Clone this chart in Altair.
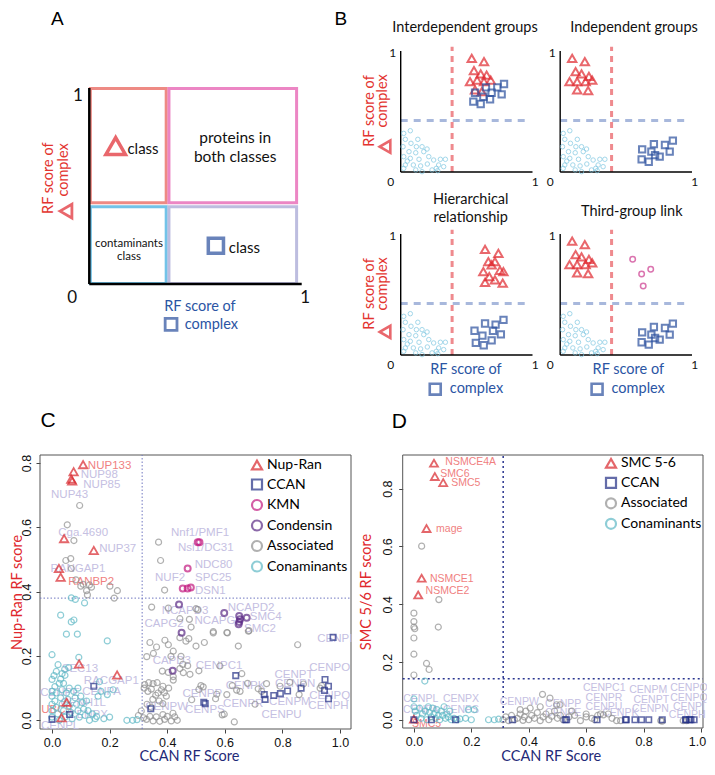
import altair as alt
import pandas as pd

LATO = "Lato"
HELV = "Liberation Sans"
RED = "#e3342f"
BLUE_T = "#2b55a4"
BLACK = "#111111"

# ======================= Panel A (schematic) =======================
A_box_x0 = [0.005, 0.375, 0.005, 0.375]
A_box_x1 = [0.362, 0.976, 0.362, 0.976]
A_box_y0 = [0.415, 0.415, 0.003, 0.003]
A_box_y1 = [0.998, 0.998, 0.394, 0.394]
A_box_color = ["#ee8a84", "#ec86c4", "#72c3e8", "#bdbddf"]

A_axis_x0 = [0.0, 0.0]
A_axis_y0 = [0.0, 0.0]
A_axis_x1 = [0.0, 1.0]
A_axis_y1 = [1.0, 0.0]

A_letters = ["A", "B"]
A_letters_x = [-0.150, 1.184]
A_letters_y = [1.350, 1.350]

A_txt = ["1", "0", "1", "class", "proteins in", "both classes", "contaminants", "class",
         "class", "RF score of", "complex", "RF score of", "complex"]
A_txt_x = [-0.053, -0.081, 1.016, 0.253, 0.687, 0.687, 0.187, 0.187, 0.730, -0.188, -0.118, 0.521, 0.575]
A_txt_y = [0.959, -0.071, -0.071, 0.689, 0.743, 0.649, 0.204, 0.136, 0.182, 0.540, 0.582, -0.116, -0.209]
A_txt_size = [17, 17, 17, 15, 15.5, 15.5, 11.5, 11.5, 15, 14.5, 14.5, 14.5, 14.5]
A_txt_color = [BLACK, BLACK, BLACK, BLACK, BLACK, BLACK, BLACK, BLACK, BLACK, RED, RED, BLUE_T, BLUE_T]
A_txt_angle = [0, 0, 0, 0, 0, 0, 0, 0, 0, 270, 270, 0, 0]

A_sym_x = [0.124, 0.596, -0.110, 0.385]
A_sym_y = [0.704, 0.195, 0.372, -0.206]
A_sym_shape = ["triangle-up", "square", "triangle-left", "square"]
A_sym_color = ["#e0282e", "#2a4f9e", "#e0282e", "#2a4f9e"]
A_sym_size = [380, 230, 190, 140]
A_sym_width = [3.5, 3.5, 2.8, 2.8]

# ======================= Panel B (schematic) =======================
B_COL_DX = 1.21
B_ROW_DY = 1.512

B_cont_x = [0.023, 0.073, 0.035, 0.078, 0.018, 0.119, 0.162, 0.063, 0.114, 0.175, 0.213, 0.023, 0.073,
            0.139, 0.250, 0.301, 0.339, 0.035, 0.096, 0.151, 0.202, 0.288, 0.326, 0.114, 0.238, 0.281,
            0.023, 0.162, 0.050, 0.200, 0.130, 0.270]
B_cont_y = [0.319, 0.341, 0.270, 0.237, 0.209, 0.209, 0.209, 0.168, 0.159, 0.168, 0.127, 0.127, 0.113,
            0.105, 0.099, 0.105, 0.105, 0.058, 0.058, 0.050, 0.066, 0.058, 0.044, 0.017, 0.017, 0.011,
            0.030, 0.003, 0.090, 0.190, 0.270, 0.030]

B_tl_tri_x = [0.539, 0.632, 0.556, 0.607, 0.652, 0.526, 0.580, 0.632, 0.683, 0.564, 0.615]
B_tl_tri_y = [0.940, 0.912, 0.837, 0.810, 0.800, 0.746, 0.760, 0.746, 0.760, 0.678, 0.664]
B_tl_sq_x = [0.647, 0.564, 0.627, 0.690, 0.733, 0.784, 0.766, 0.551, 0.607, 0.678]
B_tl_sq_y = [0.700, 0.655, 0.622, 0.655, 0.700, 0.727, 0.642, 0.581, 0.562, 0.601]

B_tr_tri_x = [0.091, 0.187, 0.117, 0.162, 0.218, 0.071, 0.129, 0.193, 0.243, 0.129, 0.212]
B_tr_tri_y = [0.940, 0.912, 0.830, 0.810, 0.790, 0.746, 0.746, 0.746, 0.760, 0.678, 0.672]
B_tr_sq_x = [0.622, 0.711, 0.795, 0.855, 0.692, 0.755, 0.831, 0.618, 0.672, 0.720]
B_tr_sq_y = [0.187, 0.231, 0.223, 0.259, 0.168, 0.127, 0.168, 0.105, 0.085, 0.140]

B_bl_tri_x = [0.640, 0.741, 0.665, 0.715, 0.627, 0.690, 0.753, 0.779, 0.672, 0.640, 0.774, 0.715]
B_bl_tri_y = [0.873, 0.840, 0.771, 0.771, 0.689, 0.744, 0.700, 0.689, 0.647, 0.600, 0.593, 0.620]
B_bl_sq_x = [0.560, 0.640, 0.720, 0.780, 0.620, 0.690, 0.760, 0.570, 0.630, 0.700]
B_bl_sq_y = [0.200, 0.260, 0.250, 0.290, 0.160, 0.120, 0.170, 0.100, 0.080, 0.200]

B_br_mag_x = [0.550, 0.618, 0.687, 0.630]
B_br_mag_y = [0.791, 0.669, 0.708, 0.570]

B_panels = ["TL", "TR", "BL", "BR"]
B_panel_col = [0, 1, 0, 1]
B_panel_row = [0, 0, 1, 1]

B_txt_panel = ["TL", "TL", "TL", "TL", "TL", "TL",
               "TR", "TR", "TR", "TR",
               "BL", "BL", "BL", "BL", "BL", "BL", "BL", "BL", "BL",
               "BR", "BR", "BR", "BR", "BR", "BR"]
B_txt = ["Interdependent groups", "1", "0", "1", "RF score of", "complex",
         "Independent groups", "1", "0", "1",
         "Hierarchical", "relationship", "1", "0", "1", "RF score of", "complex", "RF score of", "complex",
         "Third-group link", "1", "0", "1", "RF score of", "complex"]
B_txt_x = [0.488, -0.060, -0.075, 1.020, -0.233, -0.132,
           0.560, -0.060, -0.075, 1.020,
           0.531, 0.531, -0.060, -0.075, 1.020, -0.233, -0.132, 0.495, 0.575,
           0.543, -0.060, -0.075, 1.020, 0.517, 0.592]
B_txt_y = [1.190, 0.980, -0.080, -0.080, 0.504, 0.587,
           1.190, 0.980, -0.080, -0.080,
           1.281, 1.132, 0.980, -0.080, -0.080, 0.504, 0.587, -0.124, -0.283,
           1.182, 0.980, -0.080, -0.080, -0.124, -0.283]
B_txt_size = [14.5, 12, 12, 12, 14.5, 14.5,
              14.5, 12, 12, 12,
              14.5, 14.5, 12, 12, 12, 14.5, 14.5, 14.5, 14.5,
              14.5, 12, 12, 12, 14.5, 14.5]
B_txt_color = [BLACK, BLACK, BLACK, BLACK, RED, RED,
               BLACK, BLACK, BLACK, BLACK,
               BLACK, BLACK, BLACK, BLACK, BLACK, RED, RED, BLUE_T, BLUE_T,
               BLACK, BLACK, BLACK, BLACK, BLUE_T, BLUE_T]
B_txt_angle = [0, 0, 0, 0, 270, 270,
               0, 0, 0, 0,
               0, 0, 0, 0, 0, 270, 270, 0, 0,
               0, 0, 0, 0, 0, 0]

B_sym_panel = ["TL", "BL", "BL", "BR"]
B_sym_x = [-0.119, -0.119, 0.262, 0.280]
B_sym_y = [0.209, 0.190, -0.283, -0.283]
B_sym_shape = ["triangle-left", "triangle-left", "square", "square"]
B_sym_color = ["#e0282e", "#e0282e", "#2a4f9e", "#2a4f9e"]

# ======================= Panel C (data) =======================
C_groups = ["Nup-Ran", "CCAN", "KMN", "Condensin", "Associated", "Conaminants"]
C_colors = ["#d9262c", "#232f86", "#c2187f", "#5b2a86", "#8f8f8f", "#5fb9c6"]
C_shapes = ["triangle-up", "square", "circle", "circle", "circle", "circle"]

C_frame_x = [-0.0417, 1.0382]
C_frame_y = [-0.027, 0.825]

C_nup_x = [0.108, 0.075, 0.067, 0.070, 0.042, 0.145, 0.024, 0.030, 0.094, 0.226, 0.051, 0.033]
C_nup_y = [0.795, 0.773, 0.750, 0.744, 0.565, 0.528, 0.472, 0.445, 0.175, 0.141, 0.056, 0.008]

C_ccan_x = [0.000, 0.061, 0.145, 0.343, 0.527, 0.532, 0.638, 0.737, 0.740, 0.770, 0.793, 0.818,
            0.865, 0.946, 0.948, 0.960, 0.960, 0.976]
C_ccan_y = [0.003, 0.018, 0.106, 0.036, 0.056, 0.052, 0.139, 0.080, 0.065, 0.077, 0.083, 0.091,
            0.100, 0.093, 0.127, 0.106, 0.067, 0.258]

C_kmn_x = [0.506, 0.512, 0.471, 0.454, 0.471, 0.482]
C_kmn_y = [0.554, 0.554, 0.472, 0.410, 0.410, 0.413]

C_cond_x = [0.441, 0.450, 0.419, 0.598, 0.650, 0.653, 0.650, 0.648, 0.676]
C_cond_y = [0.360, 0.272, 0.154, 0.334, 0.324, 0.314, 0.306, 0.299, 0.319]

C_assoc_x = [0.096, 0.053, 0.076, 0.065, 0.048, 0.067, 0.083, 0.100, 0.120, 0.123, 0.130, 0.201, 0.227,
             0.216, 0.108, 0.137,
             0.370, 0.377, 0.391, 0.346, 0.404, 0.444, 0.477, 0.500, 0.483, 0.444, 0.465, 0.475, 0.500,
             0.529, 0.560, 0.609, 0.682, 0.647, 0.853, 0.340, 0.363, 0.392, 0.404, 0.421, 0.329, 0.352,
             0.413, 0.448, 0.454, 0.471, 0.444, 0.456, 0.479, 0.383, 0.404, 0.421, 0.421, 0.510, 0.583,
             0.506,
             0.322, 0.351, 0.385, 0.333, 0.368, 0.397, 0.320, 0.336, 0.365, 0.345, 0.380, 0.405, 0.360,
             0.390, 0.350, 0.372, 0.385, 0.345, 0.330,
             0.310, 0.328, 0.351, 0.374, 0.391, 0.414, 0.426, 0.362, 0.300, 0.340, 0.400, 0.435, 0.318,
             0.385, 0.420,
             0.560, 0.607, 0.684, 0.659, 0.517, 0.525, 0.510, 0.568, 0.607, 0.626, 0.641, 0.653, 0.598,
             0.633, 0.716, 0.728, 0.745, 0.792, 0.858, 0.873, 0.931, 0.936, 0.705, 0.485, 0.572, 0.679,
             0.826, 0.591]
C_assoc_y = [0.668, 0.608, 0.559, 0.503, 0.497, 0.472, 0.437, 0.417, 0.403, 0.390, 0.421, 0.417, 0.403,
             0.380, 0.423, 0.414,
             0.554, 0.497, 0.405, 0.352, 0.349, 0.316, 0.314, 0.347, 0.290, 0.257, 0.246, 0.254, 0.231,
             0.242, 0.272, 0.272, 0.277, 0.231, 0.235, 0.242, 0.228, 0.249, 0.235, 0.215, 0.198, 0.208,
             0.199, 0.199, 0.174, 0.170, 0.161, 0.148, 0.143, 0.153, 0.149, 0.136, 0.125, 0.154, 0.169,
             0.344,
             0.111, 0.114, 0.106, 0.090, 0.085, 0.075, 0.100, 0.117, 0.117, 0.097, 0.095, 0.100, 0.078,
             0.086, 0.065, 0.060, 0.052, 0.040, 0.050,
             0.029, 0.003, -0.002, -0.003, 0.003, -0.002, 0.011, 0.011, 0.015, 0.012, 0.012, 0.000, 0.008,
             0.018, 0.022,
             0.276, 0.273, 0.279, 0.145, 0.108, 0.104, 0.096, 0.067, 0.080, 0.108, 0.094, 0.090, 0.019,
             -0.005, 0.098, 0.090, 0.114, 0.106, 0.080, 0.113, 0.100, 0.108, 0.050, 0.064, 0.081, 0.115,
             0.118, 0.017]

C_cont_x = [0.067, 0.081, 0.113, 0.030, 0.067, 0.076, 0.050, 0.088, 0.192, 0.000, 0.093, 0.021, 0.044,
            0.058, 0.015, 0.007, 0.000, 0.035, 0.045, 0.030, 0.040, 0.025, 0.010, 0.000, 0.165, 0.192,
            0.212,
            0.000, 0.000, 0.000, 0.000, 0.010, 0.015, 0.020, 0.025, 0.030, 0.035, 0.040, 0.045, 0.050,
            0.055, 0.060, 0.065, 0.070, 0.075, 0.080, 0.085, 0.090, 0.095, 0.100, 0.105, 0.110, 0.115,
            0.120, 0.125, 0.130, 0.140, 0.150, 0.060, 0.035, 0.015, 0.090, 0.160, 0.170, 0.260, 0.280,
            0.295, 0.200, 0.180, 0.155]
C_cont_y = [0.381, 0.376, 0.365, 0.327, 0.306, 0.312, 0.268, 0.268, 0.247, 0.204, 0.196, 0.173, 0.159,
            0.164, 0.152, 0.139, 0.127, 0.145, 0.140, 0.128, 0.115, 0.115, 0.105, 0.090, 0.120, 0.080,
            0.095,
            0.075, 0.050, 0.030, 0.010, 0.060, 0.040, 0.020, 0.000, 0.070, 0.050, 0.030, 0.010, 0.085,
            0.065, 0.045, 0.025, 0.005, 0.090, 0.070, 0.050, 0.030, 0.010, 0.075, 0.055, 0.035, 0.015,
            0.060, 0.030, 0.000, 0.020, 0.005, 0.100, 0.095, 0.085, 0.100, 0.075, 0.090, 0.000, 0.000,
            0.002, 0.010, 0.005, 0.012]

C_lab_red = ["NUP133", "RANBP2", "UBC9"]
C_lab_red_x = [0.200, 0.136, 0.016]
C_lab_red_y = [0.791, 0.430, 0.032]

C_lab = ["NUP98", "NUP85", "NUP43", "Cga.4690", "NUP37", "RANGAP1", "Nnf1/PMF1", "Nsl1/DC31", "NDC80",
         "NUF2", "SPC25", "DSN1", "NCAPD2", "NCAPD3", "NCAPG", "SMC4", "SMC2", "CAPG2", "CAPD3",
         "CENPC1", "CENPI", "CENPO", "CENPT", "CENPN", "CENPQ", "CENPH", "CENPM", "CENPU", "CENPR",
         "CENPK", "CENPP", "CENPS", "CENPW", "SEC13", "RACGAP1", "CENPA", "CENPE", "CENH1L", "CENPX",
         "CENPL"]
C_lab_x = [0.164, 0.173, 0.061, 0.108, 0.228, 0.090, 0.514, 0.534, 0.561, 0.410, 0.560, 0.550, 0.691,
           0.462, 0.566, 0.742, 0.722, 0.389, 0.416, 0.580, 0.982, 0.964, 0.840, 0.844, 0.964, 0.960,
           0.826, 0.797, 0.664, 0.672, 0.522, 0.531, 0.398, 0.097, 0.206, 0.172, 0.028, 0.108, 0.125,
           0.028]
C_lab_y = [0.764, 0.731, 0.700, 0.582, 0.533, 0.470, 0.583, 0.537, 0.483, 0.441, 0.441, 0.401, 0.349,
           0.340, 0.309, 0.321, 0.285, 0.298, 0.185, 0.168, 0.254, 0.162, 0.142, 0.114, 0.077, 0.044,
           0.056, 0.018, 0.050, 0.106, 0.081, 0.033, 0.040, 0.160, 0.121, 0.088, 0.084, 0.053, 0.015,
           -0.018]

C_thr_x = [0.313]
C_thr_y = [0.380]
C_letter = ["C"]
C_letter_x = [-0.014]
C_letter_y = [0.930]

# ======================= Panel D (data) =======================
D_groups = ["SMC 5-6", "CCAN", "Associated", "Conaminants"]
D_colors = ["#d9262c", "#232f86", "#8f8f8f", "#5fb9c6"]
D_shapes = ["triangle-up", "square", "circle", "circle"]

D_frame_x = [-0.039, 1.007]
D_frame_y = [-0.0285, 0.9165]

D_smc_x = [0.070, 0.073, 0.102, 0.044, 0.027, 0.015, 0.000]
D_smc_y = [0.888, 0.842, 0.821, 0.662, 0.490, 0.432, 0.002]

D_ccan_x = [0.000, 0.061, 0.145, 0.343, 0.527, 0.532, 0.638, 0.737, 0.740, 0.770, 0.793, 0.818,
            0.865, 0.946, 0.948, 0.960, 0.965, 0.976]
D_ccan_y = [0.000, 0.000, 0.000, 0.000, 0.000, 0.000, 0.000, 0.000, 0.000, 0.000, 0.000, 0.000,
            0.000, 0.000, 0.000, 0.000, 0.000, 0.000]

D_assoc_x = [0.027, 0.087, 0.000, 0.000, 0.000, 0.003, 0.000, 0.085, 0.000, 0.044, 0.053, 0.000,
             0.310, 0.320, 0.330, 0.340, 0.350, 0.360, 0.370, 0.380, 0.385, 0.390, 0.400, 0.410, 0.420,
             0.430, 0.440, 0.450, 0.460, 0.470, 0.480, 0.490, 0.500, 0.510, 0.520, 0.540, 0.560, 0.580,
             0.600, 0.620, 0.640, 0.650, 0.660, 0.677, 0.690, 0.706, 0.720, 0.860, 0.865, 0.938, 0.950,
             0.448, 0.474, 0.497, 0.509, 0.405, 0.370, 0.440, 0.550, 0.600, 0.630]
D_assoc_y = [0.601, 0.416, 0.369, 0.340, 0.321, 0.315, 0.283, 0.321, 0.227, 0.195, 0.174, 0.155,
             0.000, 0.010, -0.003, 0.015, 0.000, 0.005, 0.020, -0.002, 0.010, 0.030, 0.000, 0.015, 0.005,
             0.025, -0.003, 0.010, 0.020, 0.000, 0.012, 0.030, 0.005, 0.015, 0.000, 0.010, 0.015, -0.003,
             0.010, 0.005, 0.015, 0.020, 0.017, 0.020, 0.005, -0.003, -0.003, -0.003, -0.005, -0.003, -0.003,
             0.088, 0.075, 0.052, 0.052, 0.040, 0.035, 0.045, 0.030, 0.020, 0.000]

D_cont_x = [0.038, 0.000, 0.000, 0.005, 0.020, 0.030, 0.040, 0.050, 0.060, 0.070, 0.080, 0.090, 0.100,
            0.110, 0.120, 0.130, 0.140, 0.150, 0.160, 0.180, 0.200, 0.190, 0.210, 0.260, 0.280, 0.295,
            0.010, 0.025, 0.045, 0.055, 0.065, 0.075, 0.085, 0.095, 0.105, 0.115, 0.125]
D_cont_y = [0.134, 0.072, 0.045, 0.030, 0.040, 0.020, 0.030, 0.045, 0.010, 0.020, 0.035, 0.000, 0.015,
            0.005, 0.010, 0.000, 0.005, 0.000, 0.003, 0.005, 0.000, 0.035, 0.035, 0.000, 0.000, 0.002,
            0.015, 0.005, 0.000, 0.025, 0.040, 0.005, 0.015, 0.030, 0.045, 0.020, 0.030]

D_lab_red = ["NSMCE4A", "SMC6", "SMC5", "mage", "NSMCE1", "NSMCE2", "SMC5"]
D_lab_red_x = [0.198, 0.143, 0.181, 0.123, 0.132, 0.117, 0.044]
D_lab_red_y = [0.894, 0.850, 0.819, 0.662, 0.487, 0.445, -0.015]

D_lab = ["CENPL", "CENPA", "CENPX", "CENPS", "CENPW", "CENPP", "CENPE", "CENPC1", "CENPR", "CENPU",
         "CENPK", "CENPM", "CENPT", "CENPN", "CENPO", "CENPQ", "CENPI", "CENPH"]
D_lab_x = [0.024, 0.024, 0.164, 0.164, 0.367, 0.520, 0.520, 0.663, 0.662, 0.662, 0.719, 0.816, 0.827,
           0.824, 0.958, 0.958, 0.958, 0.952]
D_lab_y = [0.072, 0.034, 0.072, 0.033, 0.061, 0.055, 0.022, 0.109, 0.075, 0.045, 0.023, 0.103, 0.069,
           0.038, 0.109, 0.075, 0.045, 0.015]

D_thr_x = [0.311]
D_thr_y = [0.142]
D_letter = ["D"]
D_letter_x = [-0.0505]
D_letter_y = [1.032]

# ======================= page layout (pixels inside the view) =======================
W, H = 699, 755


def lin(dom, rng):
    return alt.Scale(domain=dom, range=rng, nice=False, zero=False)


def noax(field, scale, ch):
    if ch == "x":
        return alt.X(field, type="quantitative", scale=scale, axis=None)
    return alt.Y(field, type="quantitative", scale=scale, axis=None)


# ---------------- build A ----------------
xsA = lin([0, 1], [81.3, 293.7])
ysA = lin([0, 1], [276, 80])

dfA_box = pd.DataFrame({"x0": A_box_x0, "x1": A_box_x1, "y0": A_box_y0, "y1": A_box_y1, "c": A_box_color})
dfA_ax = pd.DataFrame({"x0": A_axis_x0, "x1": A_axis_x1, "y0": A_axis_y0, "y1": A_axis_y1})
dfA_let = pd.DataFrame({"t": A_letters, "x": A_letters_x, "y": A_letters_y})
dfA_txt = pd.DataFrame({"t": A_txt, "x": A_txt_x, "y": A_txt_y, "s": A_txt_size, "c": A_txt_color,
                        "a": A_txt_angle})
dfA_sym = pd.DataFrame({"x": A_sym_x, "y": A_sym_y, "sh": A_sym_shape, "c": A_sym_color, "s": A_sym_size,
                        "w": A_sym_width})

A_boxes = alt.Chart(dfA_box).mark_rect(filled=False, strokeWidth=3).encode(
    x=noax("x0", xsA, "x"), x2="x1:Q", y=noax("y0", ysA, "y"), y2="y1:Q",
    stroke=alt.Stroke("c:N", scale=None))
A_axes = alt.Chart(dfA_ax).mark_rule(color="black", strokeWidth=2.5).encode(
    x=noax("x0", xsA, "x"), x2="x1:Q", y=noax("y0", ysA, "y"), y2="y1:Q")
A_let = alt.Chart(dfA_let).mark_text(font=HELV, fontSize=19, color="black").encode(
    x=noax("x", xsA, "x"), y=noax("y", ysA, "y"), text="t:N")
A_text = alt.Chart(dfA_txt).mark_text(font=LATO).encode(
    x=noax("x", xsA, "x"), y=noax("y", ysA, "y"), text="t:N",
    size=alt.Size("s:Q", scale=None), color=alt.Color("c:N", scale=None), angle=alt.Angle("a:Q", scale=None))
A_syms = alt.Chart(dfA_sym).mark_point(filled=False).encode(
    x=noax("x", xsA, "x"), y=noax("y", ysA, "y"),
    shape=alt.Shape("sh:N", scale=None), color=alt.Color("c:N", scale=None),
    size=alt.Size("s:Q", scale=None), strokeWidth=alt.StrokeWidth("w:Q", scale=None))

panelA = alt.layer(A_boxes, A_axes, A_let, A_text, A_syms)

# ---------------- build B ----------------
xsB = lin([0, 1], [392.7, 524.5])
ysB = lin([0, 1], [164, 43])
pcol = dict(zip(B_panels, B_panel_col))
prow = dict(zip(B_panels, B_panel_row))


def place(df, panel):
    df = df.copy()
    df["x"] = df["x"] + pcol[panel] * B_COL_DX
    df["y"] = df["y"] - prow[panel] * B_ROW_DY
    if "x1" in df:
        df["x1"] = df["x1"] + pcol[panel] * B_COL_DX
        df["y1"] = df["y1"] - prow[panel] * B_ROW_DY
    return df


pts = []
for p in B_panels:
    pts.append(place(pd.DataFrame({"x": B_cont_x, "y": B_cont_y, "sh": "circle", "c": "#7cc7e2",
                                   "s": 20, "w": 1.0}), p))
pts.append(place(pd.DataFrame({"x": B_tl_tri_x, "y": B_tl_tri_y, "sh": "triangle-up", "c": "#e0282e",
                               "s": 70, "w": 2.0}), "TL"))
pts.append(place(pd.DataFrame({"x": B_tl_sq_x, "y": B_tl_sq_y, "sh": "square", "c": "#2a4f9e",
                               "s": 40, "w": 2.0}), "TL"))
pts.append(place(pd.DataFrame({"x": B_tr_tri_x, "y": B_tr_tri_y, "sh": "triangle-up", "c": "#e0282e",
                               "s": 70, "w": 2.0}), "TR"))
pts.append(place(pd.DataFrame({"x": B_tr_sq_x, "y": B_tr_sq_y, "sh": "square", "c": "#2a4f9e",
                               "s": 40, "w": 2.0}), "TR"))
pts.append(place(pd.DataFrame({"x": B_bl_tri_x, "y": B_bl_tri_y, "sh": "triangle-up", "c": "#e0282e",
                               "s": 70, "w": 2.0}), "BL"))
pts.append(place(pd.DataFrame({"x": B_bl_sq_x, "y": B_bl_sq_y, "sh": "square", "c": "#2a4f9e",
                               "s": 40, "w": 2.0}), "BL"))
pts.append(place(pd.DataFrame({"x": B_tr_tri_x, "y": B_tr_tri_y, "sh": "triangle-up", "c": "#e0282e",
                               "s": 70, "w": 2.0}), "BR"))
pts.append(place(pd.DataFrame({"x": B_tr_sq_x, "y": B_tr_sq_y, "sh": "square", "c": "#2a4f9e",
                               "s": 40, "w": 2.0}), "BR"))
pts.append(place(pd.DataFrame({"x": B_br_mag_x, "y": B_br_mag_y, "sh": "circle", "c": "#cc3a8e",
                               "s": 30, "w": 1.5}), "BR"))
for i, p in enumerate(B_sym_panel):
    pts.append(place(pd.DataFrame({"x": [B_sym_x[i]], "y": [B_sym_y[i]], "sh": [B_sym_shape[i]],
                                   "c": [B_sym_color[i]], "s": [150 if "tri" in B_sym_shape[i] else 120],
                                   "w": [2.6]}), p))
dfB_pts = pd.concat(pts, ignore_index=True)

ax_rows, pink_rows, blue_rows = [], [], []
for p in B_panels:
    ax_rows.append(place(pd.DataFrame({"x": [0.0, 0.0], "y": [0.0, 0.0], "x1": [0.0, 1.0],
                                       "y1": [1.0, 0.0]}), p))
    pink_rows.append(place(pd.DataFrame({"x": [0.39], "y": [0.0], "x1": [0.39], "y1": [1.035]}), p))
    blue_rows.append(place(pd.DataFrame({"x": [0.0], "y": [0.425], "x1": [0.97], "y1": [0.425]}), p))
dfB_ax = pd.concat(ax_rows, ignore_index=True)
dfB_pink = pd.concat(pink_rows, ignore_index=True)
dfB_blue = pd.concat(blue_rows, ignore_index=True)

txt_rows = []
for i, p in enumerate(B_txt_panel):
    txt_rows.append(place(pd.DataFrame({"t": [B_txt[i]], "x": [B_txt_x[i]], "y": [B_txt_y[i]],
                                        "s": [B_txt_size[i]], "c": [B_txt_color[i]],
                                        "a": [B_txt_angle[i]]}), p))
dfB_txt = pd.concat(txt_rows, ignore_index=True)


def seg_layer(df, **kw):
    return alt.Chart(df).mark_rule(**kw).encode(
        x=noax("x", xsB, "x"), x2="x1:Q", y=noax("y", ysB, "y"), y2="y1:Q")


B_pink = seg_layer(dfB_pink, color="#ef8a8e", strokeWidth=3, strokeDash=[6, 5])
B_blue = seg_layer(dfB_blue, color="#a8b8dc", strokeWidth=3, strokeDash=[7, 6])
B_axes = seg_layer(dfB_ax, color="black", strokeWidth=1.4)
B_text = alt.Chart(dfB_txt).mark_text(font=LATO).encode(
    x=noax("x", xsB, "x"), y=noax("y", ysB, "y"), text="t:N",
    size=alt.Size("s:Q", scale=None), color=alt.Color("c:N", scale=None), angle=alt.Angle("a:Q", scale=None))
B_pts = alt.Chart(dfB_pts).mark_point(filled=False).encode(
    x=noax("x", xsB, "x"), y=noax("y", ysB, "y"),
    shape=alt.Shape("sh:N", scale=None), color=alt.Color("c:N", scale=None),
    size=alt.Size("s:Q", scale=None), strokeWidth=alt.StrokeWidth("w:Q", scale=None))

panelB = alt.layer(B_pink, B_blue, B_axes, B_pts, B_text)


# ---------------- scatter panels C and D ----------------
def scatter(groups, colors, shapes, point_frames, lab_red, lab, thr_x, thr_y, frame_x, frame_y,
            xrange, yrange, xoff, yoff, ytitle, ytitle_x, xtitle_x, xtitle_y, ylab_pad, xlab_pad,
            letter, line_color, line_width, line_dash, lab_size, leg_x, leg_y, last_shift):
    xs, ys = lin(frame_x, xrange), lin(frame_y, yrange)
    ax_x = alt.Axis(orient="bottom", offset=xoff, values=[0.0, 0.2, 0.4, 0.6, 0.8, 1.0], format=".1f",
                    domain=False, grid=False, tickSize=4, tickColor="#444", labelFont=HELV,
                    labelFontSize=12.5, labelColor="#111", labelBaseline="middle", labelPadding=xlab_pad,
                    labelOffset={"condition": {"test": "datum.value >= 1", "value": last_shift}, "value": 0},
                    title="CCAN RF Score", titleFont=LATO, titleFontSize=14.5, titleFontWeight="normal",
                    titleColor="#1f2a78", titleX=xtitle_x, titleY=xtitle_y, titleBaseline="middle",
                    titleAlign="center")
    ax_y = alt.Axis(orient="left", offset=yoff, values=[0.0, 0.2, 0.4, 0.6, 0.8], format=".1f",
                    domain=False, grid=False, tickSize=4, tickColor="#444", labelFont=HELV,
                    labelFontSize=12.5, labelColor="#111", labelAngle=270, labelAlign="center",
                    labelBaseline="middle", labelPadding=ylab_pad,
                    title=ytitle, titleFont=LATO, titleFontSize=14.5, titleFontWeight="normal",
                    titleColor="#e0282e", titleX=ytitle_x, titleAngle=270, titleBaseline="middle",
                    titleAlign="center")
    X = lambda f: alt.X(f, type="quantitative", scale=xs, axis=ax_x)
    Y = lambda f: alt.Y(f, type="quantitative", scale=ys, axis=ax_y)

    box = alt.Chart(pd.DataFrame({"x0": [frame_x[0]], "x1": [frame_x[1]], "y0": [frame_y[0]],
                                  "y1": [frame_y[1]]})).mark_rect(
        filled=False, stroke="#555", strokeWidth=1).encode(x=X("x0"), x2="x1:Q", y=Y("y0"), y2="y1:Q")
    vline = alt.Chart(pd.DataFrame({"v": thr_x, "y0": [frame_y[0]], "y1": [frame_y[1]]})).mark_rule(
        color=line_color, strokeWidth=line_width, strokeDash=line_dash).encode(
        x=X("v"), y=Y("y0"), y2="y1:Q")
    hline = alt.Chart(pd.DataFrame({"v": thr_y, "x0": [frame_x[0]], "x1": [frame_x[1]]})).mark_rule(
        color=line_color, strokeWidth=line_width, strokeDash=line_dash).encode(
        y=Y("v"), x=X("x0"), x2="x1:Q")

    t_red = alt.Chart(pd.DataFrame({"t": lab_red[0], "x": lab_red[1], "y": lab_red[2]})).mark_text(
        font=HELV, fontSize=lab_size, color="#f07f7f").encode(x=X("x"), y=Y("y"), text="t:N")
    t_lav = alt.Chart(pd.DataFrame({"t": lab[0], "x": lab[1], "y": lab[2]})).mark_text(
        font=HELV, fontSize=lab_size, color="#c5c0e2").encode(x=X("x"), y=Y("y"), text="t:N")
    t_let = alt.Chart(pd.DataFrame({"t": letter[0], "x": letter[1], "y": letter[2]})).mark_text(
        font=HELV, fontSize=21, color="black").encode(x=X("x"), y=Y("y"), text="t:N")

    dfp = pd.concat(point_frames, ignore_index=True)
    leg = alt.Legend(title=None, orient="none", legendX=leg_x, legendY=leg_y, padding=0,
                     labelFont=LATO, labelFontSize=14, labelColor="black", symbolSize=100,
                     symbolStrokeWidth=2.2, rowPadding=0.5, labelOffset=3)
    points = alt.Chart(dfp).mark_point(filled=False).encode(
        x=X("x"), y=Y("y"),
        color=alt.Color("g:N", scale=alt.Scale(domain=groups, range=colors), legend=leg),
        shape=alt.Shape("g:N", scale=alt.Scale(domain=groups, range=shapes), legend=leg),
        size=alt.Size("s:Q", scale=None),
        strokeWidth=alt.StrokeWidth("w:Q", scale=None))

    return alt.layer(box, vline, hline, t_red, t_lav, points, t_let)


def frame(xv, yv, g, s, w):
    return pd.DataFrame({"x": xv, "y": yv, "g": g, "s": s, "w": w})


panelC = scatter(
    C_groups, C_colors, C_shapes,
    [frame(C_assoc_x, C_assoc_y, "Associated", 36, 1.2),
     frame(C_cont_x, C_cont_y, "Conaminants", 36, 1.2),
     frame(C_kmn_x, C_kmn_y, "KMN", 36, 2.0),
     frame(C_cond_x, C_cond_y, "Condensin", 36, 2.0),
     frame(C_nup_x, C_nup_y, "Nup-Ran", 70, 1.8),
     frame(C_ccan_x, C_ccan_y, "CCAN", 30, 1.6)],
    (C_lab_red, C_lab_red_x, C_lab_red_y), (C_lab, C_lab_x, C_lab_y),
    C_thr_x, C_thr_y, C_frame_x, C_frame_y,
    [32, 343], [721, 447], 721 - H, -32,
    "Nup-Ran RF score", -22.5, 181, 27, 10, 9,
    (C_letter, C_letter_x, C_letter_y), "#7077c0", 1, [1.5, 2], 11.5, 242, 450, 0)

panelD = scatter(
    D_groups, D_colors, D_shapes,
    [frame(D_assoc_x, D_assoc_y, "Associated", 36, 1.2),
     frame(D_cont_x, D_cont_y, "Conaminants", 36, 1.2),
     frame(D_smc_x, D_smc_y, "SMC 5-6", 64, 1.8),
     frame(D_ccan_x, D_ccan_y, "CCAN", 30, 1.6)],
    (D_lab_red, D_lab_red_x, D_lab_red_y), (D_lab, D_lab_x, D_lab_y),
    D_thr_x, D_thr_y, D_frame_x, D_frame_y,
    [394.7, 695], [720, 447], 720 - H, -394.7,
    "SMC 5/6 RF score", -36.7, 542.7, 28, 11, 9,
    (D_letter, D_letter_x, D_letter_y), "#2a3590", 1.5, [2, 3], 10.5, 596, 448.3, -4)

chart = alt.layer(panelA, panelB, panelC, panelD).resolve_scale(
    x="independent", y="independent", color="independent", shape="independent",
    size="independent", strokeWidth="independent", angle="independent", stroke="independent"
).properties(
    width=W, height=H, autosize=alt.AutoSizeParams(type="none"), padding=0, background="white"
).configure_view(stroke="transparent")

chart.save("out.html", embed_options={"renderer": "svg", "actions": False})
